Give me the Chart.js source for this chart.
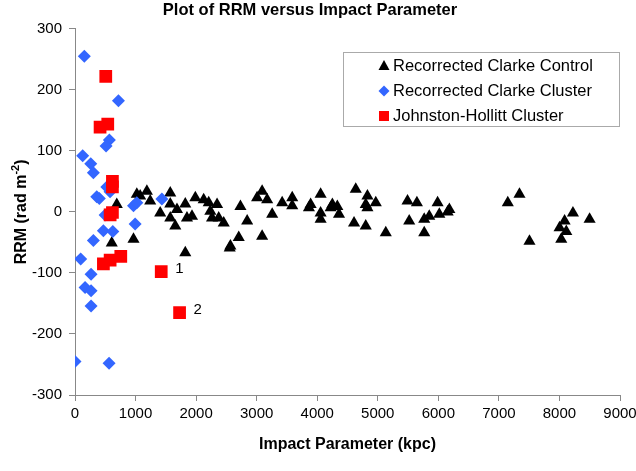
<!DOCTYPE html>
<html><head><meta charset="utf-8">
<script src="https://cdn.jsdelivr.net/npm/chart.js@4.4.0/dist/chart.umd.min.js"></script>
<style>html,body{margin:0;padding:0;background:#fff}</style>
</head><body>
<canvas id="c" width="636" height="471"></canvas>
<script>
// Recorrected Clarke Control (triangles)
const controlX = [690,966,607,1076,1187,1021,1242,1573,1407,1573,1684,1573,1656,1821,1849,1932,1821,1987,2125,2208,2346,2235,2263,2373,2456,2732,2843,2704,2566,2555,3007,3090,3173,3256,3090,3421,3587,3587,4056,3891,3863,4056,4056,4250,4332,4360,4222,4636,4829,4801,4967,4829,4608,4801,5132,5491,5646,5519,5767,5850,5988,6016,6182,6154,5767,7147,7340,7505,8223,8085,8002,8113,8030,8498];
const controlY = [12,-45,-51,26,34,29,18,31,-2,13,4,-10,-23,13,-10,-7,-67,23,20,15,12,1,-10,-10,-18,9,-15,-42,-56,-59,23,34,20,-4,-40,15,23,10,29,12,7,-2,-12,12,9,-4,7,37,26,12,15,7,-18,-23,-34,18,15,-15,-12,-7,15,-4,4,0,-34,15,29,-48,-2,-15,-26,-32,-45,-12];
// Recorrected Clarke Cluster (diamonds)
const clusterX = [154,717,568,513,127,260,303,525,579,359,402,966,1021,1435,497,993,469,624,303,94,265,166,265,265,0,563];
const clusterY = [255,182,118,108,92,79,64,41,33,25,22,10,15,21,-5,-20,-31,-32,-47,-77,-102,-124,-129,-154,-245,-248];
// Johnston-Hollitt Cluster (squares)
const jhX = [508,414,541,618,618,618,580,469,580,756,1424,1727];
const jhY = [222,139,144,50,41,-1,-5,-85,-79,-73,-98,-165];
// point annotations
const noteText = ['1','2'];
const noteX = [1424,1727];
const noteY = [-98,-165];

const seriesNames = ['Recorrected Clarke Control','Recorrected Clarke Cluster','Johnston-Hollitt Cluster'];
const yTitleMain = 'RRM (rad m';
const yTitleSup = '-2';
const yTitleEnd = ')';
const FONT = "'Liberation Sans', Arial, Helvetica, sans-serif";
const BLUE = '#3366FF', RED = '#FF0000', BLACK = '#000000';

function pts(xs, ys){ return xs.map((x,i)=>({x:x, y:ys[i]})); }

const notePlugin = {
  id:'notes',
  afterDatasetsDraw(chart){
    const c = chart.ctx, sx = chart.scales.x, sy = chart.scales.y;
    c.save();
    c.font = '15px ' + FONT;
    c.fillStyle = '#000';
    c.textBaseline = 'middle';
    c.textAlign = 'left';
    noteText.forEach((t,i)=>{
      c.fillText(t, sx.getPixelForValue(noteX[i]) + 14, sy.getPixelForValue(noteY[i]) - 3);
    });
    c.restore();
  }
};

const yTitlePlugin = {
  id:'yTitle',
  afterDraw(chart){
    const c = chart.ctx, area = chart.chartArea;
    const mainF = 'bold 16px ' + FONT, supF = 'bold 11px ' + FONT;
    c.save();
    c.font = mainF; const w1 = c.measureText(yTitleMain).width; const w3 = c.measureText(yTitleEnd).width;
    c.font = supF; const w2 = c.measureText(yTitleSup).width;
    const total = w1 + w2 + w3;
    c.translate(26, (area.top + area.bottom) / 2);
    c.rotate(-Math.PI / 2);
    c.fillStyle = '#000';
    c.textBaseline = 'alphabetic';
    c.textAlign = 'left';
    let x = -total / 2;
    c.font = mainF; c.fillText(yTitleMain, x, 0); x += w1;
    c.font = supF; c.fillText(yTitleSup, x, -7); x += w2;
    c.font = mainF; c.fillText(yTitleEnd, x, 0);
    c.restore();
  }
};

const legendPlugin = {
  id:'boxLegend',
  afterDraw(chart){
    const c = chart.ctx;
    c.save();
    c.strokeStyle = '#aaaaaa';
    c.lineWidth = 1;
    c.fillStyle = '#fff';
    c.fillRect(343.5, 52.5, 276, 74);
    c.strokeRect(343.5, 52.5, 276, 74);
    const rows = [66, 91, 116];
    const mx = 384;
    c.fillStyle = BLACK; c.beginPath();
    c.moveTo(mx, rows[0]-6); c.lineTo(mx+5.5, rows[0]+4); c.lineTo(mx-5.5, rows[0]+4); c.closePath(); c.fill();
    c.fillStyle = BLUE; c.beginPath();
    c.moveTo(mx, rows[1]-5.5); c.lineTo(mx+5.5, rows[1]); c.lineTo(mx, rows[1]+5.5); c.lineTo(mx-5.5, rows[1]); c.closePath(); c.fill();
    c.fillStyle = RED; c.fillRect(mx-5, rows[2]-5, 10, 10);
    c.fillStyle = '#000';
    c.font = '16.5px ' + FONT;
    c.textBaseline = 'middle';
    c.textAlign = 'left';
    seriesNames.forEach((n,i)=> c.fillText(n, 393, rows[i]));
    c.restore();
  }
};

const tickFont = {family: FONT, size: 15};
new Chart(document.getElementById('c'), {
  type: 'scatter',
  data: {
    datasets: [
      {label: seriesNames[0], data: pts(controlX, controlY), pointStyle:'triangle', pointRadius:7, backgroundColor:BLACK, borderColor:BLACK, borderWidth:0, order:2},
      {label: seriesNames[1], data: pts(clusterX, clusterY), pointStyle:'rectRot', pointRadius:6.5, backgroundColor:BLUE, borderColor:BLUE, borderWidth:0, order:1},
      {label: seriesNames[2], data: pts(jhX, jhY), pointStyle:'rect', pointRadius:9, backgroundColor:RED, borderColor:RED, borderWidth:0, order:0}
    ]
  },
  options: {
    responsive: false,
    animation: false,
    devicePixelRatio: 1,
    layout: {padding: {left: 0, right: 16, top: 0, bottom: 0}},
    plugins: {
      legend: {display: false},
      tooltip: {enabled: false},
      title: {display: true, text: 'Plot of RRM versus Impact Parameter', color: '#000',
              font: {family: FONT, size: 16.5, weight: 'bold'}, padding: {top: 1, bottom: 8}}
    },
    scales: {
      x: {
        type: 'linear', min: 0, max: 9000,
        ticks: {stepSize: 1000, color: '#000', font: tickFont, padding: 4, maxRotation: 0,
                callback: v => String(v)},
        grid: {drawOnChartArea: false, tickLength: 6, color: '#888'},
        border: {color: '#888'},
        title: {display: true, text: 'Impact Parameter (kpc)', color: '#000',
                font: {family: FONT, size: 16, weight: 'bold'}, padding: {top: 0, bottom: 17}},
        afterFit(s){ s.height = 76; s.paddingRight = 0; s.paddingLeft = 0; }
      },
      y: {
        type: 'linear', min: -300, max: 300,
        ticks: {stepSize: 100, color: '#000', font: tickFont, padding: 7, callback: v => String(v)},
        grid: {drawOnChartArea: false, tickLength: 6, color: '#888'},
        border: {color: '#888'},
        title: {display: false},
        afterFit(s){ s.width = 75; s.paddingTop = 0; s.paddingBottom = 0; }
      }
    }
  },
  plugins: [notePlugin, legendPlugin, yTitlePlugin]
});
</script>
</body></html>
